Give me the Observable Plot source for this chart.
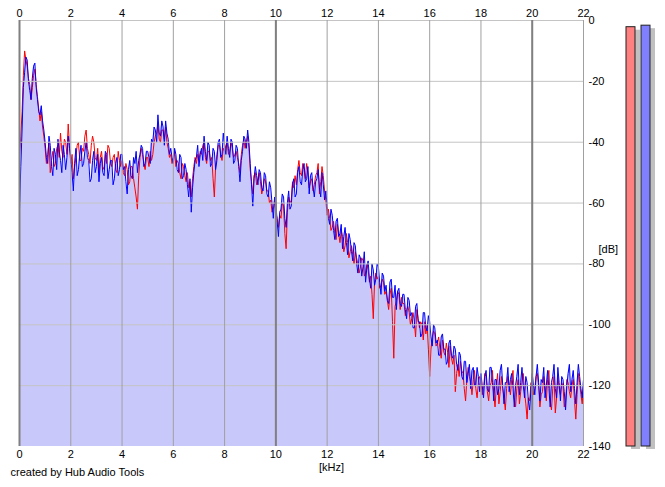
<!DOCTYPE html>
<html><head><meta charset="utf-8">
<script src="https://cdn.jsdelivr.net/npm/d3@7"></script>
<script src="https://cdn.jsdelivr.net/npm/@observablehq/plot@0.6"></script>
<style>
html,body{margin:0;padding:0;background:#fff;}
#wrap{position:relative;width:665px;height:487px;}
#wrap svg{position:absolute;left:0;top:0;}
</style></head><body><div id="wrap"></div>
<script>
// frequency bin spacing in kHz
const binStep = 0.05;
// left channel (red) spectrum, dB, one value per 0.05 kHz from 0 to 22 kHz (20 values per kHz row)
const red = [
-45,-38,-30,-18,-10,-13,-15,-19,-21,-26,-22,-18,-16,-21,-25,-29,-33,-30,-35,-38,
-42,-47,-44,-40,-50,-46,-43,-48,-47,-42,-41,-45,-37,-43,-45,-39,-40,-44,-34,-41,
-47,-44,-52,-48,-45,-41,-40,-46,-46,-42,-43,-38,-36,-42,-44,-47,-41,-38,-40,-45,
-46,-42,-50,-45,-43,-48,-49,-44,-47,-41,-42,-47,-48,-45,-44,-49,-50,-43,-46,-48,
-46,-50,-51,-47,-49,-54,-53,-48,-48,-52,-55,-58,-62,-51,-45,-42,-44,-47,-49,-45,
-45,-48,-43,-46,-44,-40,-38,-37,-34,-39,-40,-36,-36,-39,-35,-40,-42,-45,-44,-47,
-45,-43,-48,-46,-47,-50,-52,-47,-48,-51,-53,-50,-55,-53,-58,-52,-48,-45,-47,-44,
-46,-43,-44,-41,-40,-45,-47,-43,-43,-46,-45,-52,-58,-48,-44,-41,-41,-44,-46,-42,
-43,-41,-40,-44,-43,-40,-42,-45,-44,-43,-45,-47,-50,-44,-41,-39,-42,-40,-38,-42,
-49,-53,-57,-51,-50,-54,-52,-50,-53,-57,-55,-52,-53,-56,-56,-60,-59,-63,-62,-59,
-63,-65,-68,-64,-65,-60,-61,-70,-75,-63,-58,-60,-59,-53,-55,-51,-54,-49,-46,-50,
-51,-47,-49,-52,-47,-50,-55,-53,-52,-56,-54,-51,-50,-47,-57,-53,-48,-51,-56,-59,
-64,-62,-65,-69,-68,-66,-70,-72,-67,-70,-73,-69,-71,-76,-74,-70,-73,-78,-76,-74,
-77,-80,-76,-78,-80,-83,-81,-78,-79,-84,-83,-80,-82,-86,-84,-90,-98,-86,-83,-85,
-84,-88,-87,-85,-86,-90,-89,-92,-95,-90,-88,-99,-111,-94,-92,-89,-90,-95,-91,-93,
-93,-97,-95,-94,-96,-100,-98,-96,-99,-104,-95,-98,-101,-99,-100,-105,-99,-103,-100,-108,
-117,-108,-104,-102,-103,-107,-106,-104,-108,-111,-105,-109,-110,-106,-109,-114,-107,-111,-113,-110,
-122,-116,-113,-117,-112,-115,-116,-121,-125,-118,-114,-117,-119,-123,-118,-115,-121,-124,-119,-117,
-118,-123,-121,-116,-117,-122,-125,-120,-119,-115,-123,-127,-120,-116,-126,-122,-117,-121,-124,-128,
-121,-117,-120,-123,-118,-115,-124,-127,-121,-118,-126,-122,-119,-116,-122,-126,-131,-124,-125,-119,
-119,-123,-121,-117,-116,-120,-127,-123,-122,-117,-120,-125,-118,-115,-125,-128,-121,-117,-129,-124,
-117,-121,-123,-119,-120,-127,-125,-118,-119,-122,-124,-120,-118,-125,-131,-123,-116,-119,-123,-126,
-120];
// right channel (blue) spectrum, dB
const blue = [
-62,-48,-36,-22,-17,-12,-13,-20,-23,-26,-19,-15,-14,-22,-26,-30,-31,-28,-33,-36,
-40,-45,-47,-38,-41,-48,-51,-42,-44,-49,-39,-43,-46,-50,-41,-44,-49,-45,-38,-42,
-45,-50,-56,-47,-42,-51,-49,-44,-41,-48,-47,-43,-40,-45,-46,-53,-52,-46,-43,-50,
-48,-44,-53,-47,-45,-50,-51,-43,-44,-52,-49,-46,-46,-54,-52,-47,-45,-51,-49,-44,
-44,-49,-48,-53,-57,-49,-46,-51,-52,-45,-47,-43,-50,-46,-44,-41,-42,-48,-47,-43,
-43,-45,-47,-39,-40,-35,-36,-40,-31,-37,-38,-33,-35,-41,-33,-37,-39,-44,-42,-45,
-47,-42,-44,-49,-50,-44,-45,-52,-51,-47,-49,-54,-58,-52,-63,-55,-50,-46,-45,-41,
-48,-44,-42,-46,-38,-43,-46,-40,-41,-48,-47,-42,-43,-49,-46,-40,-39,-45,-44,-37,
-41,-44,-38,-42,-45,-39,-40,-47,-46,-41,-42,-48,-53,-46,-43,-38,-39,-42,-36,-40,
-47,-54,-61,-52,-48,-51,-54,-49,-50,-55,-56,-50,-51,-57,-58,-53,-55,-60,-65,-58,
-60,-66,-71,-63,-62,-57,-58,-65,-68,-60,-56,-62,-61,-54,-52,-58,-57,-50,-48,-53,
-54,-49,-47,-53,-52,-48,-57,-51,-50,-55,-58,-53,-52,-49,-55,-58,-50,-54,-59,-56,
-61,-65,-67,-62,-64,-69,-72,-66,-65,-71,-70,-67,-75,-71,-68,-73,-77,-70,-72,-76,
-79,-73,-74,-80,-83,-77,-78,-84,-81,-76,-86,-81,-79,-85,-88,-80,-82,-87,-85,-80,
-81,-86,-90,-83,-84,-89,-87,-92,-93,-86,-85,-91,-91,-87,-95,-89,-88,-93,-94,-90,
-90,-95,-98,-91,-92,-97,-96,-101,-101,-94,-93,-99,-99,-104,-103,-96,-96,-101,-102,-97,
-99,-104,-107,-100,-101,-106,-105,-110,-110,-104,-103,-108,-108,-113,-112,-106,-105,-110,-111,-107,
-108,-113,-115,-109,-110,-117,-118,-112,-112,-119,-116,-113,-121,-115,-114,-120,-120,-114,-117,-122,
-116,-120,-124,-117,-115,-121,-122,-114,-114,-119,-125,-118,-118,-123,-121,-115,-113,-120,-126,-119,
-119,-114,-122,-118,-116,-121,-127,-120,-117,-113,-123,-119,-114,-120,-124,-117,-119,-125,-128,-121,
-116,-120,-123,-117,-113,-119,-125,-118,-119,-114,-124,-120,-115,-121,-127,-119,-117,-113,-121,-124,
-114,-119,-125,-117,-118,-122,-128,-120,-116,-113,-122,-118,-115,-121,-126,-119,-113,-117,-121,-124,
-118];
const xTicks = [0,2,4,6,8,10,12,14,16,18,20,22];
const xMajor = [0,10,20];
const yTicks = [0,-20,-40,-60,-80,-100,-120,-140];
// level meters
const meterChannels = ["L","R"];
const meterLevels = [-2.2,-1.7];
const meterColors = ["#ff8080","#8080ff"];

const data = blue.map((b,i)=>({f: +(i*binStep).toFixed(2), blue: b, red: red[i]}));
const meters = meterChannels.map((c,i)=>({ch:c, level:meterLevels[i], color:meterColors[i]}));
const font = "'Liberation Sans', Arial, sans-serif";

const main = Plot.plot({
  width:665, height:487,
  marginTop:20, marginBottom:41, marginLeft:19, marginRight:82,
  style:{fontFamily:font, fontSize:"11px", color:"#000", background:"transparent", overflow:"visible"},
  x:{domain:[0,22]},
  y:{domain:[-140,0]},
  marks:[
    Plot.areaY(data,{x:"f", y1:-140, y2:"blue", fill:"#c8c8fa"}),
    Plot.lineY(data,{x:"f", y:"red", stroke:"#ff0000", strokeWidth:1}),
    Plot.lineY(data,{x:"f", y:"blue", stroke:"#0000ff", strokeWidth:1}),
    Plot.gridY(yTicks.filter(d=>d>-140),{stroke:"#c4c4c4", strokeOpacity:1}),
    Plot.gridX(xTicks,{stroke:"#a0a0a0", strokeOpacity:1}),
    Plot.ruleX(xMajor,{stroke:"#808080", strokeWidth:2}),
    Plot.axisX(xTicks,{anchor:"top", tickSize:0, tickPadding:4, label:null}),
    Plot.axisX(xTicks,{anchor:"bottom", tickSize:0, tickPadding:4, label:null}),
    Plot.axisY(yTicks,{anchor:"right", tickSize:0, tickPadding:5, tickFormat:d=>String(d), label:null}),
    Plot.text(["[dB]"],{text:d=>d, frameAnchor:"right", dx:15, dy:16, textAnchor:"start"}),
    Plot.text(["[kHz]"],{text:d=>d, frameAnchor:"bottom", dx:30, dy:24}),
    Plot.text(["created by Hub Audio Tools"],{text:d=>d, frameAnchor:"bottom-left", dx:-9, dy:29, textAnchor:"start", fontSize:11})
  ]
});

const meterPlot = Plot.plot({
  width:665, height:487,
  marginTop:20, marginBottom:41, marginLeft:0, marginRight:0,
  style:{background:"transparent", overflow:"visible"},
  x:{type:"band", domain:meterChannels, range:[622.5,653.7], paddingInner:0.42, paddingOuter:0.2, axis:null},
  y:{domain:[-140,0], axis:null},
  color:{type:"identity"},
  marks:[
    Plot.barY(meters,{x:"ch", y1:-140, y2:"level", fill:"#c0c0c0", dx:5, dy:3}),
    Plot.barY(meters,{x:"ch", y1:-140, y2:"level", fill:"color", stroke:"#202020", strokeWidth:1})
  ]
});

const wrap = document.getElementById("wrap");
wrap.appendChild(main);
wrap.appendChild(meterPlot);
</script></body></html>
